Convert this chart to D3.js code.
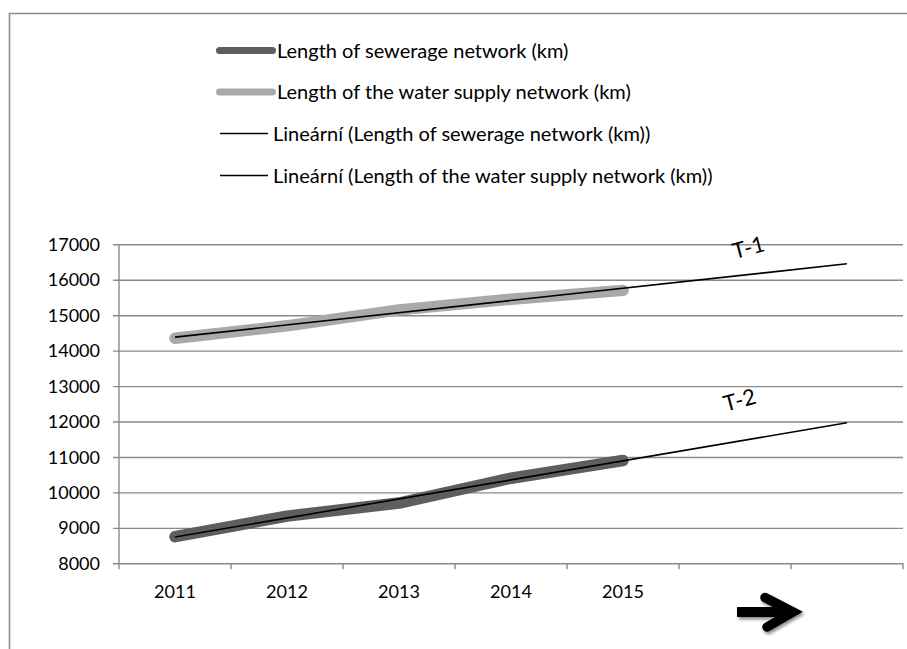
<!DOCTYPE html>
<html>
<head>
<meta charset="utf-8">
<script src="https://cdn.jsdelivr.net/npm/d3@7"></script>
<style>
  html, body { margin: 0; padding: 0; background: #fff; }
  svg { display: block; }
  text { font-family: Lato, "Open Sans", sans-serif; fill: #000; }
</style>
</head>
<body>
<svg id="chart" width="907" height="649"></svg>
<script>
// Network length by year (km)
const years = ["2011", "2012", "2013", "2014", "2015"];
const forecastPeriods = 2; // trend lines are extended two periods ahead
const categoryLabels = ["2011", "2012", "2013", "2014", "2015", "", ""];
const sewerage = [8750, 9330, 9700, 10400, 10900];
const waterSupply = [14350, 14700, 15150, 15450, 15700];
const yTicks = [8000, 9000, 10000, 11000, 12000, 13000, 14000, 15000, 16000, 17000];
const legendLabels = [
  "Length of sewerage network (km)",
  "Length of the water supply network (km)",
  "Lineární (Length of sewerage network (km))",
  "Lineární (Length of the water supply network (km))"
];
const trendLabels = ["T-1", "T-2"];

const svg = d3.select("#chart");
const gridColor = "#8a8a8a";
const sewerColor = "#5e5e5e";
const waterColor = "#a9a9a9";

const plot = { left: 119, right: 903, top: 244.3, bottom: 563.3 };

const x = d3.scaleBand()
  .domain(d3.range(categoryLabels.length))
  .range([plot.left, plot.right]);
const y = d3.scaleLinear()
  .domain([d3.min(yTicks), d3.max(yTicks)])
  .range([plot.bottom, plot.top]);
const cx = i => x(0) + x.bandwidth() / 2 + i * x.bandwidth();

// outer chart frame (only the top and left edges fall inside the view)
svg.append("path")
  .attr("d", "M9.5,649V13.5H907")
  .attr("fill", "none")
  .attr("stroke", "#8c8c8c")
  .attr("stroke-width", 1.6);

// horizontal gridlines + value axis
const yAxis = d3.axisLeft(y)
  .tickValues(yTicks)
  .tickSize(-(plot.right - plot.left))
  .tickSizeOuter(0)
  .tickFormat(d3.format("d"));
const gy = svg.append("g")
  .attr("transform", `translate(${plot.left},0)`)
  .call(yAxis);
gy.select(".domain").remove();
gy.selectAll(".tick line")
  .attr("x1", -6)
  .attr("stroke", gridColor)
  .attr("stroke-width", 1.4);
gy.selectAll(".tick text")
  .attr("x", -19)
  .attr("dy", "0.34em")
  .style("font-size", "18px")
  .style("font-family", "Lato, sans-serif")
  .attr("fill", "#000");

// vertical value-axis line
svg.append("line")
  .attr("x1", plot.left).attr("x2", plot.left)
  .attr("y1", plot.top).attr("y2", plot.bottom)
  .attr("stroke", gridColor).attr("stroke-width", 1.4);

// category axis: tick marks on the category boundaries, labels centred
const boundaries = d3.range(categoryLabels.length + 1);
const xb = d3.scaleLinear().domain([0, categoryLabels.length]).range([plot.left, plot.right]);
svg.append("g")
  .selectAll("line")
  .data(boundaries)
  .join("line")
  .attr("x1", d => xb(d)).attr("x2", d => xb(d))
  .attr("y1", plot.bottom).attr("y2", plot.bottom + 6)
  .attr("stroke", gridColor).attr("stroke-width", 1.4);

svg.append("g")
  .selectAll("text")
  .data(categoryLabels)
  .join("text")
  .attr("x", (d, i) => cx(i))
  .attr("y", 598)
  .attr("text-anchor", "middle")
  .style("font-size", "18px")
  .text(d => d);

// data series
const line = d3.line().x(d => cx(d.i)).y(d => y(d.v));
const seriesPts = arr => arr.map((v, i) => ({ i, v }));

svg.append("path")
  .datum(seriesPts(waterSupply))
  .attr("d", line)
  .attr("fill", "none")
  .attr("stroke", waterColor)
  .attr("stroke-width", 11.5)
  .attr("stroke-linecap", "round")
  .attr("stroke-linejoin", "round");

svg.append("path")
  .datum(seriesPts(sewerage))
  .attr("d", line)
  .attr("fill", "none")
  .attr("stroke", sewerColor)
  .attr("stroke-width", 11.5)
  .attr("stroke-linecap", "round")
  .attr("stroke-linejoin", "round");

// least-squares linear trend, extended forward
function linearTrend(values, ahead) {
  const n = values.length;
  const xs = d3.range(n);
  const mx = d3.mean(xs), my = d3.mean(values);
  const slope = d3.sum(xs, (xi, k) => (xi - mx) * (values[k] - my)) /
                d3.sum(xs, xi => (xi - mx) ** 2);
  const icpt = my - slope * mx;
  return { slope, icpt, pts: [0, n - 1 + ahead].map(i => ({ i, v: icpt + slope * i })) };
}

[waterSupply, sewerage].forEach(s => {
  svg.append("path")
    .datum(linearTrend(s, forecastPeriods).pts)
    .attr("d", line)
    .attr("fill", "none")
    .attr("stroke", "#000")
    .attr("stroke-width", 1.6);
});

// trend labels, set above each trend line
const trendLabelPos = [
  { series: waterSupply, at: 5.12, dy: -27 },
  { series: sewerage, at: 5.04, dy: -41 }
];
trendLabelPos.forEach((p, k) => {
  const t = linearTrend(p.series, forecastPeriods);
  const v = t.icpt + t.slope * p.at;
  svg.append("text")
    .attr("transform", `translate(${cx(p.at)},${y(v) + p.dy}) rotate(-15)`)
    .attr("text-anchor", "middle")
    .attr("dy", "0.35em")
    .style("font-size", "22px")
    .text(trendLabels[k]);
});

// legend
const legend = svg.append("g");
const rowsY = [50.5, 92, 133.5, 175.5];
const swatches = [
  { color: sewerColor, w: 7, x1: 219.5, x2: 272.5, cap: "round", tx: 277 },
  { color: waterColor, w: 7, x1: 219.5, x2: 272.5, cap: "round", tx: 277 },
  { color: "#000", w: 1.6, x1: 220, x2: 268, cap: "butt", tx: 273 },
  { color: "#000", w: 1.6, x1: 220, x2: 268, cap: "butt", tx: 273 }
];
legendLabels.forEach((lbl, k) => {
  const s = swatches[k];
  legend.append("line")
    .attr("x1", s.x1).attr("x2", s.x2)
    .attr("y1", rowsY[k]).attr("y2", rowsY[k])
    .attr("stroke", s.color)
    .attr("stroke-width", s.w)
    .attr("stroke-linecap", s.cap);
  legend.append("text")
    .attr("x", s.tx)
    .attr("y", rowsY[k])
    .attr("dy", "0.35em")
    .style("font-size", "20px")
    .text(lbl);
});

// forward-pointing arrow with soft shadow
const defs = svg.append("defs");
const f = defs.append("filter").attr("id", "arrowShadow")
  .attr("x", "-30%").attr("y", "-30%").attr("width", "160%").attr("height", "160%");
f.append("feDropShadow")
  .attr("dx", 1.5).attr("dy", 2.5)
  .attr("stdDeviation", 1.6)
  .attr("flood-color", "#000")
  .attr("flood-opacity", 0.45);

const arrow = svg.append("g").attr("filter", "url(#arrowShadow)");
arrow.append("line")
  .attr("x1", 737).attr("x2", 790)
  .attr("y1", 612).attr("y2", 612)
  .attr("stroke", "#000").attr("stroke-width", 10);
arrow.append("path")
  .attr("d", "M765,597.5L793,612L767,627")
  .attr("fill", "none")
  .attr("stroke", "#000")
  .attr("stroke-width", 9.5)
  .attr("stroke-linecap", "round")
  .attr("stroke-linejoin", "miter");
</script>
</body>
</html>
